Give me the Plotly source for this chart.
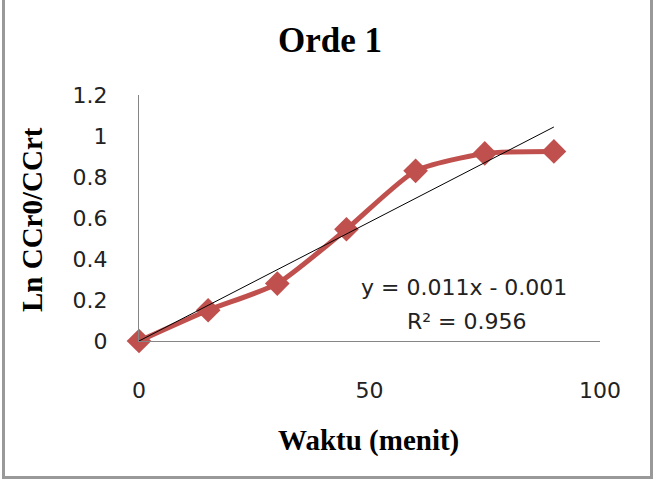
import plotly.graph_objects as go

waktu = [0, 15, 30, 45, 60, 75, 90]
ln_ratio = [0, 0.15, 0.28, 0.545, 0.83, 0.915, 0.925]
trend_slope = 0.0116
trend_intercept = 0.0
eq_text = "y = 0.011x - 0.001"
r2_text = "R² = 0.956"
x_ticks = [0, 50, 100]
y_ticks = [0, 0.2, 0.4, 0.6, 0.8, 1, 1.2]

W, H = 660, 486
L, R, T, B = 139, 60, 95, 145
pw, ph = W - L - R, H - T - B

def px(xp):
    return (xp - L) / pw

def py(yp):
    return (H - B - yp) / ph

trend_x = [min(waktu), max(waktu)]
trend_y = [trend_slope * v + trend_intercept for v in trend_x]

red = "#C0504D"
tick_font = dict(family="DejaVu Sans", size=22, color="#222")
serif_bold = dict(family="Liberation Serif", size=29, color="black")

fig = go.Figure()
fig.add_trace(go.Scatter(
    x=waktu, y=ln_ratio, mode="lines+markers",
    line=dict(color=red, width=5, shape="spline", smoothing=0.6),
    marker=dict(symbol="diamond", size=19, color=red),
    showlegend=False, cliponaxis=False,
))
fig.add_trace(go.Scatter(
    x=trend_x, y=trend_y, mode="lines",
    line=dict(color="black", width=1), showlegend=False, cliponaxis=False,
))

fig.update_layout(
    width=W, height=H, margin=dict(l=L, r=R, t=T, b=B),
    paper_bgcolor="white", plot_bgcolor="white",
    title=dict(text="<b>Orde 1</b>", x=0.5, xanchor="center", y=1 - 40 / H, yanchor="middle",
               font=dict(family="Liberation Serif", size=35, color="black")),
    xaxis=dict(range=[0, 100], tickvals=x_ticks, showgrid=False, zeroline=False,
               showline=True, linecolor="#868686", linewidth=1, ticks="",
               ticklabelstandoff=30, tickfont=tick_font),
    yaxis=dict(range=[0, 1.2], tickvals=y_ticks, showgrid=False, zeroline=False,
               showline=True, linecolor="#868686", linewidth=1, ticks="",
               ticklabelstandoff=26, tickfont=tick_font),
    annotations=[
        dict(text=eq_text, xref="paper", yref="paper", x=px(464), y=py(287),
             showarrow=False, xanchor="center", yanchor="middle", font=tick_font),
        dict(text=r2_text, xref="paper", yref="paper", x=px(467), y=py(321),
             showarrow=False, xanchor="center", yanchor="middle", font=tick_font),
        dict(text="<b>Waktu (menit)</b>", xref="paper", yref="paper", x=px(368), y=py(440),
             showarrow=False, xanchor="center", yanchor="middle", font=serif_bold),
        dict(text="<b>Ln CCr0/CCrt</b>", xref="paper", yref="paper", x=px(32), y=py(220),
             showarrow=False, xanchor="center", yanchor="middle", textangle=-90, font=serif_bold),
    ],
    shapes=[
        dict(type="rect", xref="paper", yref="paper", x0=px(3.5), x1=px(651.5),
             y0=py(477.5), y1=py(-10), line=dict(color="#999999", width=3)),
    ],
)

fig.write_html("out.html")
